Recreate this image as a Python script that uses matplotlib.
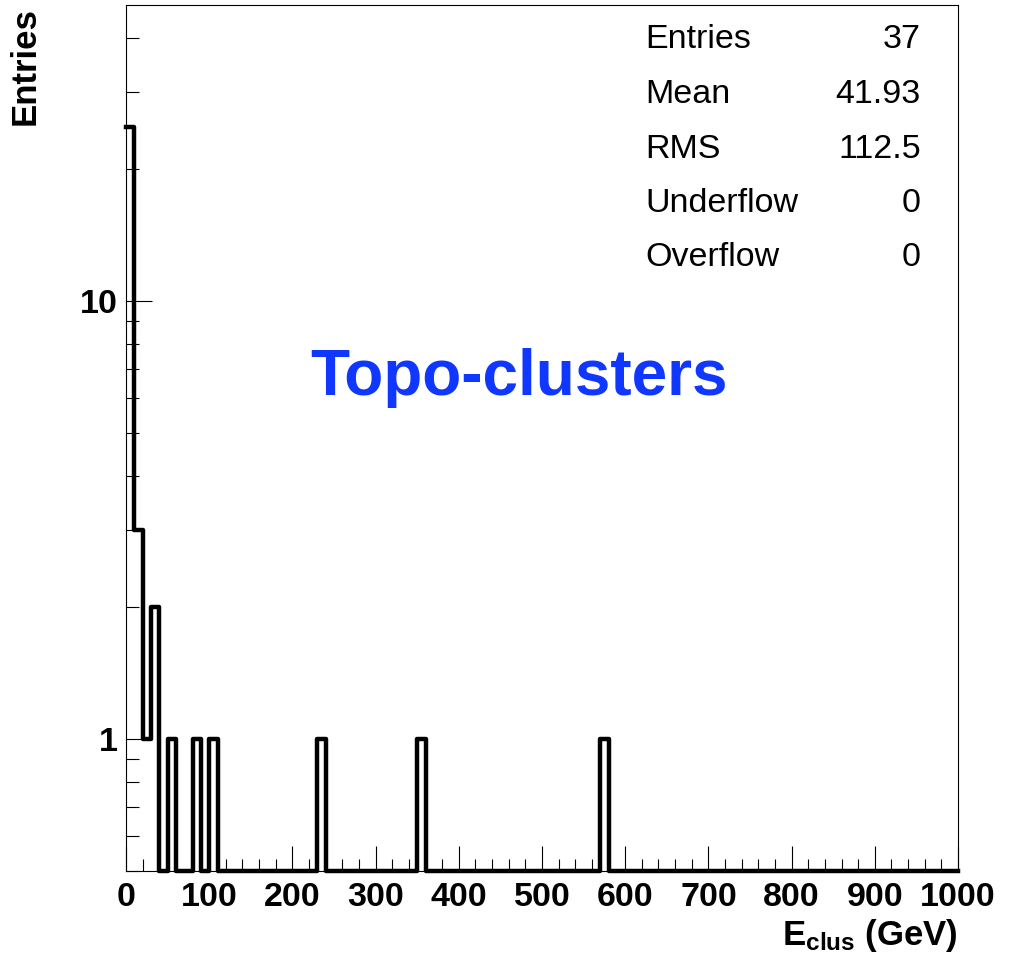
import numpy as np
import matplotlib
matplotlib.use("Agg")
import matplotlib.pyplot as plt
from matplotlib.ticker import MultipleLocator, LogLocator, NullFormatter, FuncFormatter

# histogram content (10 GeV bins from 0 to 1000), only the filled bins
bin_low = [0, 10, 20, 30, 50, 80, 100, 230, 350, 570]
counts = [25, 3, 1, 2, 1, 1, 1, 1, 1, 1]

stat_names = ["Entries", "Mean", "RMS", "Underflow", "Overflow"]
stat_values = ["37", "41.93", "112.5", "0", "0"]

plt.rcParams['font.family'] = ['Liberation Sans', 'DejaVu Sans']
plt.rcParams['mathtext.fontset'] = 'custom'
plt.rcParams['mathtext.rm'] = 'Liberation Sans:bold'
plt.rcParams['mathtext.it'] = 'Liberation Sans:bold'
plt.rcParams['mathtext.bf'] = 'Liberation Sans:bold'

W, H = 1017, 956
fig = plt.figure(figsize=(W / 100, H / 100), dpi=100)
ax = fig.add_axes([126 / W, 1 - 871 / H, (958 - 126) / W, (871 - 5) / H])

ymin, ymax = 0.5, 47.5
edges = np.arange(0, 1001, 10)
h, _ = np.histogram(np.array(bin_low) + 5, bins=edges, weights=counts)
# ROOT draws empty bins on the bottom of the frame in log scale
y = np.where(h > 0, h, ymin)
ax.step(edges, np.append(y, y[-1]), where='post', color='black', lw=3.2,
        clip_on=False, zorder=3)

ax.set_xlim(0, 1000)
ax.set_yscale('log')
ax.set_ylim(ymin, ymax)

ax.xaxis.set_major_locator(MultipleLocator(100))
ax.xaxis.set_minor_locator(MultipleLocator(20))
ax.yaxis.set_major_locator(LogLocator(base=10, subs=[1.0]))
ax.yaxis.set_minor_locator(LogLocator(base=10, subs=np.arange(2, 10)))
ax.yaxis.set_major_formatter(FuncFormatter(lambda v, p: "%d" % round(v)))
ax.yaxis.set_minor_formatter(NullFormatter())

ax.tick_params(which='both', direction='in', top=False, right=False, width=0.8, color='black')
ax.tick_params(axis='x', which='major', length=18, pad=8)
ax.tick_params(axis='x', which='minor', length=9)
ax.tick_params(axis='y', which='major', length=19, pad=6)
ax.tick_params(axis='y', which='minor', length=9.5)
for lab in ax.get_xticklabels() + ax.get_yticklabels():
    lab.set_fontsize(24.5)
    lab.set_fontweight('bold')
for sp in ax.spines.values():
    sp.set_linewidth(0.8)

ax.set_xlabel(r'E$_{\mathrm{clus}}$ (GeV)', fontsize=25, fontweight='bold')
ax.xaxis.set_label_coords(1.0, -0.053)
ax.xaxis.label.set_horizontalalignment('right')
ax.set_ylabel('Entries', fontsize=25, fontweight='bold')
ax.yaxis.set_label_coords(-0.101, 0.997)
ax.yaxis.label.set_horizontalalignment('right')

# stats box text
row_base = [48, 103, 157.5, 212, 266.5]
for name, val, yy in zip(stat_names, stat_values, row_base):
    fig.text(645 / W, 1 - yy / H, name, fontsize=24.5, va='baseline', ha='left')
    fig.text(921 / W, 1 - yy / H, val, fontsize=24.5, va='baseline', ha='right')

fig.text(310 / W, 1 - 395 / H, "Topo-clusters", fontsize=46, fontweight='bold',
         color='#0f37ff', ha='left', va='baseline')

fig.savefig("out.png", dpi=100)
